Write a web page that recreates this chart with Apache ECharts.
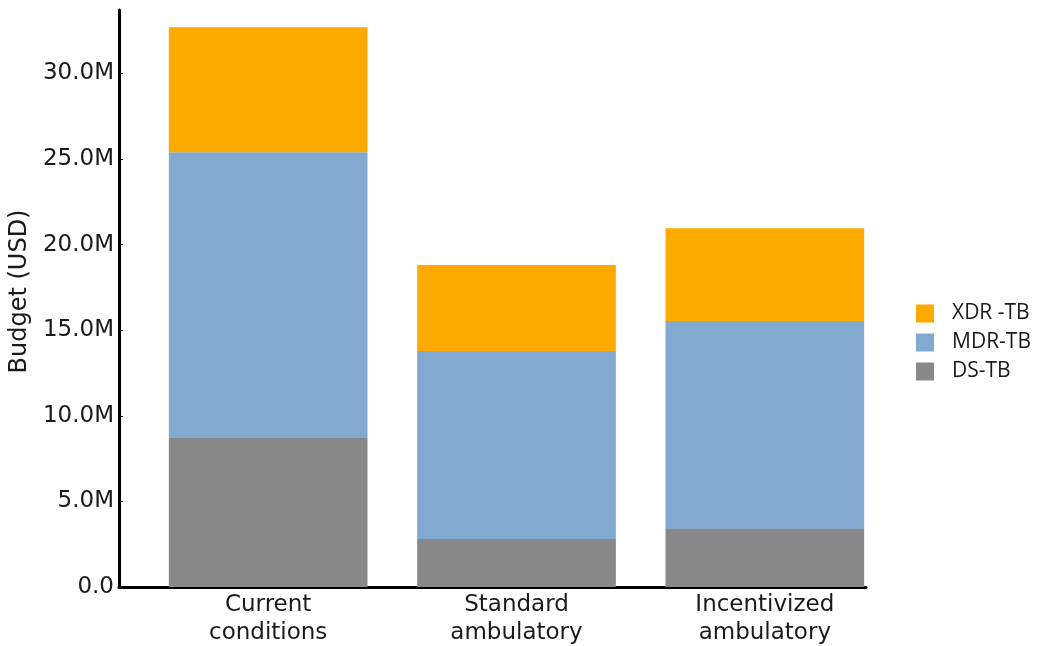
<!DOCTYPE html>
<html><head><meta charset="utf-8">
<script src="https://cdn.jsdelivr.net/npm/echarts@6/dist/echarts.min.js"></script>
<style>html,body{margin:0;padding:0;background:#fff}#c{width:1037px;height:646px}</style>
</head><body><div id="c"></div>
<script>
const categories = ['Current\nconditions', 'Standard\nambulatory', 'Incentivized\nambulatory'];
const dsTB = [8.70e6, 2.80e6, 3.39e6];
const mdrTB = [16.69e6, 10.98e6, 12.14e6];
const xdrTB = [7.30e6, 5.02e6, 5.43e6];
const yTicks = [0, 5e6, 10e6, 15e6, 20e6, 25e6, 30e6];
const yMax = 33.7e6;

const chart = echarts.init(document.getElementById('c'), null, {renderer: 'canvas'});
const fmt = v => v === 0 ? '0.0' : (v / 1e6).toFixed(1) + 'M';
chart.setOption({
  animation: false,
  grid: [
    {left: 144, right: 148, top: 10, bottom: 59, containLabel: false, outerBoundsMode: 'none'},
    {left: 119, right: 171, top: 10, bottom: 59, containLabel: false, outerBoundsMode: 'none'}
  ],
  legend: {
    orient: 'vertical', left: 916, top: 303, padding: 0,
    itemWidth: 18, itemHeight: 18, itemGap: 8,
    icon: 'rect',
    data: ['XDR -TB', 'MDR-TB', 'DS-TB'],
    textStyle: {fontFamily: 'Open Sans', fontSize: 21, color: '#1a1a1a', padding: [0, 0, 0, 13]}
  },
  xAxis: [
    {
      type: 'category', gridIndex: 0, data: categories,
      axisLine: {show: false},
      axisTick: {show: true, inside: true, alignWithLabel: true, length: 4, lineStyle: {color: '#000', width: 1}},
      axisLabel: {fontFamily: 'DejaVu Sans', fontSize: 23, color: '#1a1a1a', lineHeight: 28, margin: 4}
    },
    {
      type: 'value', gridIndex: 1, min: 0, max: 1,
      splitLine: {show: false}, axisTick: {show: false}, axisLabel: {show: false},
      axisLine: {show: true, onZero: false, lineStyle: {color: '#000', width: 3}}
    }
  ],
  yAxis: [
    {
      type: 'value', gridIndex: 0, min: 0, max: yMax, show: false, splitLine: {show: false}
    },
    {
      type: 'value', gridIndex: 1, min: 0, max: yMax, interval: 5e6,
      name: 'Budget (USD)', nameLocation: 'middle', nameGap: 78,
      nameTextStyle: {fontFamily: 'DejaVu Sans', fontSize: 24, color: '#1a1a1a', padding: [0, 0, 0, 14]},
      splitLine: {show: false},
      axisLine: {show: true, onZero: false, lineStyle: {color: '#000', width: 3}},
      axisTick: {show: true, inside: true, length: 4, customValues: yTicks, lineStyle: {color: '#000', width: 1}},
      axisLabel: {customValues: yTicks, formatter: fmt, fontFamily: 'DejaVu Sans', fontSize: 23, color: '#1a1a1a', margin: 5}
    }
  ],
  series: [
    {name: 'DS-TB', type: 'bar', xAxisIndex: 0, yAxisIndex: 0, stack: 't', data: dsTB, barWidth: '80%', itemStyle: {color: '#888888'}},
    {name: 'MDR-TB', type: 'bar', xAxisIndex: 0, yAxisIndex: 0, stack: 't', data: mdrTB, itemStyle: {color: '#82a9d0'}},
    {name: 'XDR -TB', type: 'bar', xAxisIndex: 0, yAxisIndex: 0, stack: 't', data: xdrTB, itemStyle: {color: '#ffaa00'}}
  ]
});
</script></body></html>
